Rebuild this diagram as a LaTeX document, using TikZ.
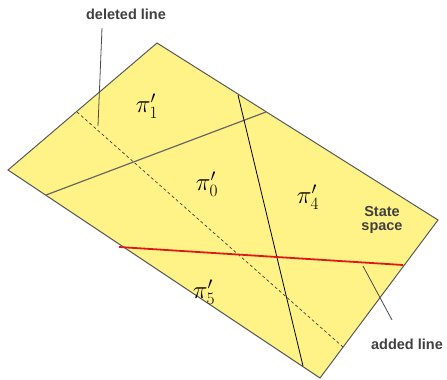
\documentclass[tikz,border=0pt]{standalone}
\usepackage{fontspec}
\setsansfont{Liberation Sans}
\begin{document}
\begin{tikzpicture}[x=1pt,y=-1pt,
  edge/.style={draw=black!65,line width=1pt},
  divide/.style={draw=black!60,line width=1.2pt},
  thinline/.style={draw=black,line width=0.8pt},
  dashline/.style={draw=black!75,line width=0.7pt,dash pattern=on 3pt off 2.5pt},
  redline/.style={draw=red!85!black!90,line width=1.8pt},
  pointer/.style={draw=black!70,line width=0.8pt},
  lbl/.style={font=\sffamily\bfseries\fontsize{14.5}{16}\selectfont,text=black!75,align=center,inner sep=1pt},
  region/.style={font=\fontsize{25}{27}\selectfont,inner sep=0pt}]
\definecolor{stateyellow}{RGB}{255,243,136}
\useasboundingbox (0,0) rectangle (447,380);
% corners
\coordinate (T) at (157,43);
\coordinate (L) at (8,170);
\coordinate (B) at (320,378);
\coordinate (R) at (438,220);
\fill[stateyellow] (T) -- (R) -- (B) -- (L) -- cycle;
\draw[edge] (T) -- (R) -- (B) -- (L) -- cycle;
% dividing lines
\coordinate (d1) at (77,112);
\coordinate (d2) at (343,347);
\draw[dashline] (d1) -- (d2);
\coordinate (g1) at (46,195);
\coordinate (g2) at (266,112);
\draw[divide] (g1) -- (g2);
\coordinate (k1) at (238,95);
\coordinate (k2) at (303,366);
\draw[thinline] (k1) -- (k2);
\coordinate (r1) at (119,247);
\coordinate (r2) at (403,265);
\draw[redline] (r1) -- (r2);
% region labels
\node[region] (p1) at (147,106) {$\pi'_1$};
\node[region] (p0) at (207,184) {$\pi'_0$};
\node[region] (p4) at (308,197) {$\pi'_4$};
\node[region] (p5) at (204,292) {$\pi'_5$};
% text labels
\node[lbl] (del) at (126,14) {deleted line};
\node[lbl] (add) at (407,344) {added line};
\node[lbl] (ss) at (382,220) {State\\[-2pt]space};
\coordinate (delp) at (98,126);
\coordinate (delt) at (102,28);
\draw[pointer] (delt) -- (delp);
\coordinate (addp) at (363,266);
\coordinate (addt) at (392,320);
\draw[pointer] (addp) -- (addt);
\end{tikzpicture}
\end{document}
